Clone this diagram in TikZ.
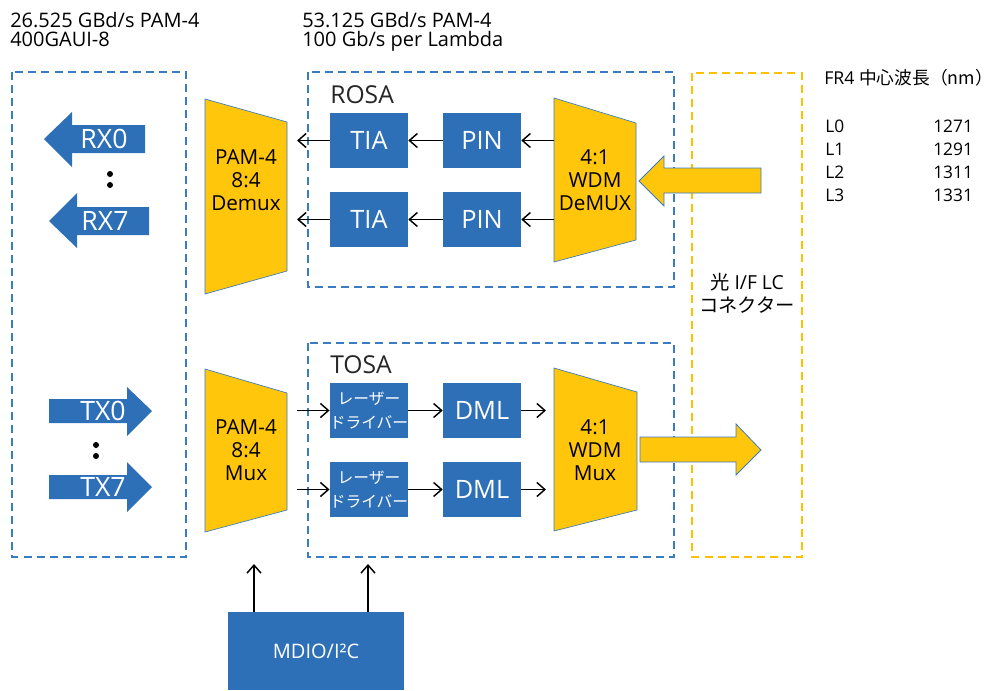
\documentclass[tikz,border=0pt]{standalone}
\usepackage{fontspec}
\setmainfont{Open Sans}
\newfontfamily\jp{Noto Sans CJK JP}
\usetikzlibrary{arrows.meta}
\definecolor{cblue}{HTML}{2E70B8}
\definecolor{cyel}{HTML}{FFC60B}
\definecolor{dblue}{HTML}{3A7CC4}
\definecolor{dyel}{HTML}{FFC000}
\newcommand\fsz[2]{\fontsize{#1}{#2}\selectfont}
\begin{document}
\begin{tikzpicture}[x=0.75pt,y=-0.75pt,
  bluebox/.style={fill=cblue, draw=none, text=white, minimum width=58.5pt, minimum height=41.25pt, inner sep=0pt, font=\fsz{19pt}{20pt}},
  ldbox/.style={bluebox, font=\jp\fsz{11.8pt}{18pt}, align=center},
  trap/.style={fill=cyel, draw=dblue, line width=0.5pt},
  trtext/.style={align=center, inner sep=0pt, font=\fsz{15.5pt}{17.25pt}},
  fatblue/.style={fill=cblue, draw=none},
  fattext/.style={text=white, inner sep=0pt, font=\fsz{20pt}{20pt}},
  fatyel/.style={fill=cyel, draw=dblue, line width=0.6pt},
  dbox/.style={draw=dblue, line width=1.1pt, dash pattern=on 6pt off 3.8pt},
  ybox/.style={draw=dyel, line width=1.1pt, dash pattern=on 6pt off 3.8pt},
  conn/.style={-{Straight Barb[length=6pt,width=10.5pt]}, line width=1.1pt, black},
  lbl/.style={inner sep=0pt, anchor=base west, font=\fsz{15pt}{16pt}},
  tbl/.style={inner sep=0pt, anchor=base west, font=\fsz{13pt}{14pt}},
  sect/.style={inner sep=0pt, anchor=base west, font=\fsz{18.5pt}{20pt}, text=black!85}
]
\useasboundingbox (0,0) rectangle (1000,690);

% headers
\node[lbl] (h1a) at (10,27) {26.525 GBd/s PAM-4};
\node[lbl] (h1b) at (10,46) {400GAUI-8};
\node[lbl] (h2a) at (302,27) {53.125 GBd/s PAM-4};
\node[lbl] (h2b) at (302,46) {100 Gb/s per Lambda};

% dashed boxes
\draw[dbox] (12,72) rectangle (186,557);
\draw[dbox] (308,72) rectangle (674,287);
\draw[dbox] (308,343) rectangle (674,557);
\draw[ybox] (692,73) rectangle (802,557);

\node[sect] (rosa) at (330,103) {ROSA};
\node[sect] (tosa) at (330,373) {TOSA};

% RX fat arrows
\draw[fatblue] (44,139) -- (72,112) -- (72,125) -- (145,125) -- (145,153) -- (72,153) -- (72,167) -- cycle;
\node[fattext] (rx0) at (104,139) {RX0};
\draw[fatblue] (49,221) -- (77,193) -- (77,207) -- (149,207) -- (149,235) -- (77,235) -- (77,248) -- cycle;
\node[fattext] (rx7) at (105,221) {RX7};
\fill (110,174) circle (3);
\fill (110,185) circle (3);

% TX fat arrows
\draw[fatblue] (49,399) -- (127,399) -- (127,387) -- (152,411) -- (127,436) -- (127,423) -- (49,423) -- cycle;
\node[fattext] (tx0) at (103,411) {TX0};
\draw[fatblue] (49,475) -- (127,475) -- (127,462) -- (152,487) -- (127,512) -- (127,499) -- (49,499) -- cycle;
\node[fattext] (tx7) at (103,487) {TX7};
\fill (96,445) circle (3);
\fill (96,456) circle (3);

% trapezoids
\draw[trap] (205,99) -- (287,122) -- (287,271) -- (205,294) -- cycle;
\node[trtext] (demux) at (246,180) {PAM-4\\8:4\\Demux};
\draw[trap] (205,369) -- (287,393) -- (287,510) -- (205,532) -- cycle;
\node[trtext] (mux) at (246,450) {PAM-4\\8:4\\Mux};
\draw[trap] (554,98) -- (636,123) -- (636,240) -- (554,262) -- cycle;
\node[trtext] (wdmd) at (595,180) {4:1\\WDM\\DeMUX};
\draw[trap] (554,368) -- (637,392) -- (637,510) -- (554,531) -- cycle;
\node[trtext] (wdmm) at (595,450) {4:1\\WDM\\Mux};

\coordinate (wdmdL) at (554,180);
\coordinate (rxend) at (297,180);
\coordinate (txstart) at (297,450);
\coordinate (dmlend) at (546,450);

% ROSA boxes
\node[bluebox] (tia1) at (369,140.5) {TIA};
\node[bluebox] (tia2) at (369,219.5) {TIA};
\node[bluebox] (pin1) at (482,140.5) {PIN};
\node[bluebox] (pin2) at (482,219.5) {PIN};

% TOSA boxes
\node[ldbox] (ld1) at (369,410.5) {レーザー\\ドライバー};
\node[ldbox] (ld2) at (369,489.5) {レーザー\\ドライバー};
\node[bluebox] (dml1) at (482,410.5) {DML};
\node[bluebox] (dml2) at (482,489.5) {DML};

% ROSA connectors
\draw[conn] (pin1.east -| wdmdL) -- (pin1.east);
\draw[conn] (pin2.east -| wdmdL) -- (pin2.east);
\draw[conn] (pin1.west) -- (tia1.east);
\draw[conn] (pin2.west) -- (tia2.east);
\draw[conn] (tia1.west) -- (tia1.west -| rxend);
\draw[conn] (tia2.west) -- (tia2.west -| rxend);

% TOSA connectors
\draw[conn] (ld1.west -| txstart) -- (ld1.west);
\draw[conn] (ld2.west -| txstart) -- (ld2.west);
\draw[conn] (ld1.east) -- (dml1.west);
\draw[conn] (ld2.east) -- (dml2.west);
\draw[conn] (dml1.east) -- (dml1.east -| dmlend);
\draw[conn] (dml2.east) -- (dml2.east -| dmlend);

% optical arrows
\draw[fatyel] (639,181) -- (664,156) -- (664,168) -- (761,168) -- (761,193) -- (664,193) -- (664,206) -- cycle;
\draw[fatyel] (640,437) -- (736,437) -- (736,424) -- (761,450) -- (736,475) -- (736,462) -- (640,462) -- cycle;

% connector label
\node[inner sep=0pt, font=\fsz{14.5pt}{17.25pt}, align=center] (lc) at (747,293) {{\jp 光} I/F LC\\{\jp コネクター}};

% MDIO
\node[bluebox, minimum width=132pt, minimum height=58.5pt, font=\fsz{15pt}{17pt}] (mdio) at (316,651) {MDIO/I²C};
\coordinate (up1) at (254,564);
\coordinate (up2) at (368,564);
\draw[conn] (mdio.north -| up1) -- (up1);
\draw[conn] (mdio.north -| up2) -- (up2);

% wavelength table
\node[tbl, font=\fsz{13.3pt}{16pt}] (fr4) at (824,84) {FR4 {\jp 中心波長（nm）}};
\node[tbl] (l0) at (825,132) {L0};
\node[tbl] (l1) at (825,155) {L1};
\node[tbl] (l2) at (825,178) {L2};
\node[tbl] (l3) at (825,201) {L3};
\node[tbl] (v0) at (933,132) {1271};
\node[tbl] (v1) at (933,155) {1291};
\node[tbl] (v2) at (933,178) {1311};
\node[tbl] (v3) at (933,201) {1331};
\end{tikzpicture}
\end{document}
